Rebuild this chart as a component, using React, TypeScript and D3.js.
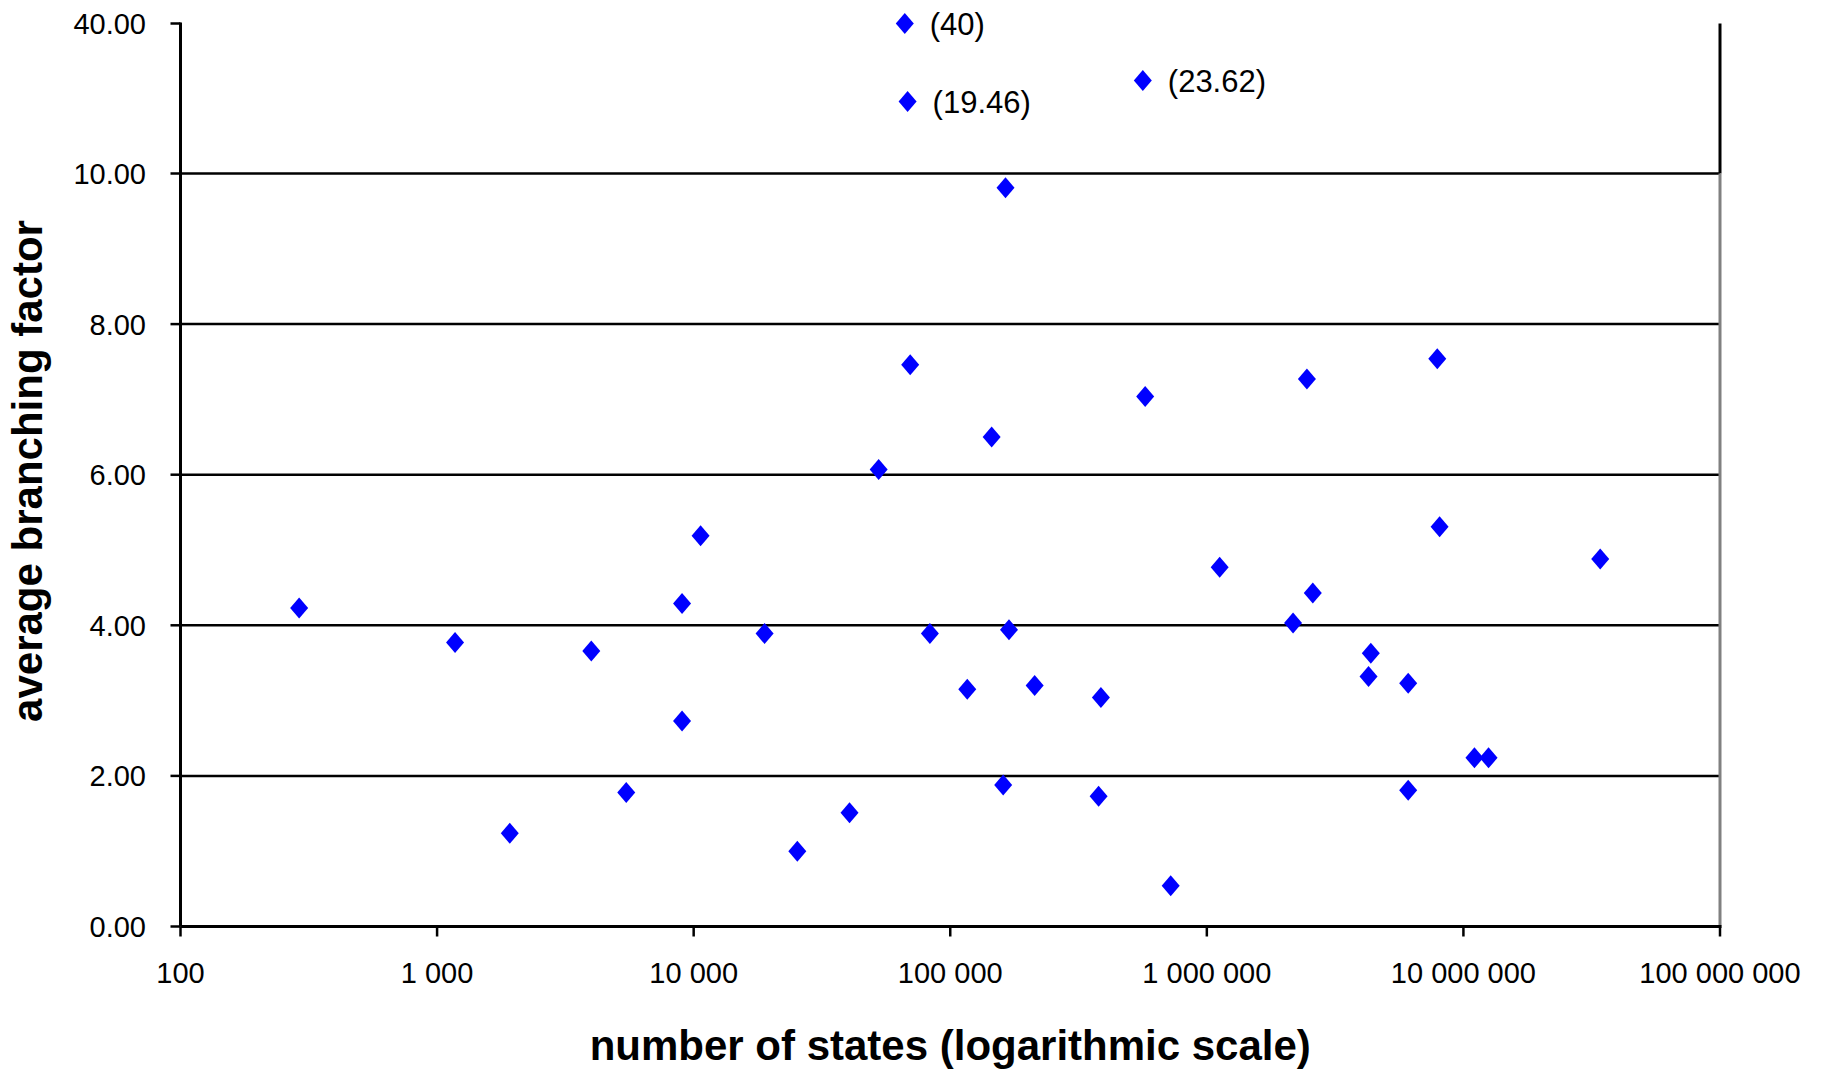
import React from "react";
import * as d3 from "d3";

const states = [
  290, 1175, 1920, 3990, 5460, 9010, 9010, 10640, 18900, 25350, 40500, 52600,
  69800, 83300, 116500, 145000, 160800, 164200, 169400, 213300, 378600, 386500,
  575000, 723000, 1122000, 2168000, 2455000, 2588000, 4268000, 4356000, 6092000,
  6092000, 7909000, 8075000, 11040000, 12530000, 34130000, 66500, 68200, 563000,
];
const branching = [
  4.23, 3.77, 1.24, 3.66, 1.78, 4.29, 2.73, 5.19, 3.89, 1.0, 1.51, 6.07, 7.46,
  3.89, 3.15, 6.5, 1.88, 9.81, 3.94, 3.2, 1.73, 3.04, 7.04, 0.54, 4.77, 4.03,
  7.27, 4.43, 3.32, 3.63, 3.23, 1.81, 7.54, 5.31, 2.24, 2.24, 4.88, 40, 19.46,
  23.62,
];
const xTicks = [100, 1000, 10000, 100000, 1000000, 10000000, 100000000];
const yTicks = [0, 2, 4, 6, 8, 10, 40];
const xTitle = "number of states (logarithmic scale)";
const yTitle = "average branching factor";

const W = 1825;
const H = 1069;
const left = 180.5;
const right = 1720;
const bottom = 926.5;
const breakY = 173.5;
const top = 23.5;

export default function App() {
  const x = d3.scaleLog().domain([100, 1e8]).range([left, right]);
  const yLin = d3.scaleLinear().domain([0, 10]).range([bottom, breakY]);
  const yTop = d3.scaleLog().domain([10, 40]).range([breakY, top]);
  const y = (v: number) => (v <= 10 ? yLin(v) : yTop(v));
  const fmtX = d3.formatLocale({ decimal: ".", thousands: " ", grouping: [3], currency: ["", ""] }).format(",");
  const fmtY = d3.format(".2f");
  const font = "'Liberation Sans', Arial, sans-serif";
  const diamond = (cx: number, cy: number) =>
    `M${cx},${cy - 10.5}L${cx + 9},${cy}L${cx},${cy + 10.5}L${cx - 9},${cy}Z`;

  return (
    <svg width={W} height={H} style={{ position: "absolute", left: 0, top: 0, background: "#fff" }} fontFamily={font}>
      <rect x={0} y={0} width={W} height={H} fill="#fff" />
      {/* gridlines */}
      {yTicks.filter((t) => t > 0 && t <= 10).map((t) => (
        <line key={"g" + t} x1={left} x2={right} y1={y(t)} y2={y(t)} stroke="#000" strokeWidth={2.5} />
      ))}
      {/* right border */}
      <line x1={right} x2={right} y1={top} y2={breakY} stroke="#000" strokeWidth={3} />
      <line x1={right} x2={right} y1={breakY} y2={bottom} stroke="#808080" strokeWidth={3} />
      {/* y axis */}
      <line x1={left} x2={left} y1={top - 1} y2={bottom} stroke="#000" strokeWidth={3} />
      {yTicks.map((t) => (
        <g key={"y" + t}>
          <line x1={left - 10} x2={left} y1={y(t)} y2={y(t)} stroke="#000" strokeWidth={2.5} />
          <text x={146} y={y(t)} dy="0.36em" textAnchor="end" fontSize={29} fill="#000">
            {fmtY(t)}
          </text>
        </g>
      ))}
      {/* x axis */}
      <line x1={left} x2={right + 1.5} y1={bottom} y2={bottom} stroke="#000" strokeWidth={3} />
      {xTicks.map((t) => (
        <g key={"x" + t}>
          <line x1={x(t)} x2={x(t)} y1={bottom} y2={bottom + 10} stroke="#000" strokeWidth={2.5} />
          <text x={x(t)} y={983} textAnchor="middle" fontSize={29} fill="#000">
            {fmtX(t)}
          </text>
        </g>
      ))}
      {/* points */}
      {states.map((s, i) => {
        const cx = x(s);
        const cy = y(branching[i]);
        return (
          <g key={"p" + i}>
            <path d={diamond(cx, cy)} fill="#0000ff" />
            {branching[i] > 10 && (
              <text x={cx + 25} y={cy} dy="0.36em" fontSize={31} fill="#000">
                {`(${branching[i]})`}
              </text>
            )}
          </g>
        );
      })}
      {/* titles */}
      <text x={(left + right) / 2} y={1060} textAnchor="middle" fontSize={42} fontWeight="bold" fill="#000">
        {xTitle}
      </text>
      <text
        transform={`translate(42, ${(top + bottom) / 2 - 4}) rotate(-90)`}
        textAnchor="middle"
        fontSize={42}
        fontWeight="bold"
        fill="#000"
      >
        {yTitle}
      </text>
    </svg>
  );
}
